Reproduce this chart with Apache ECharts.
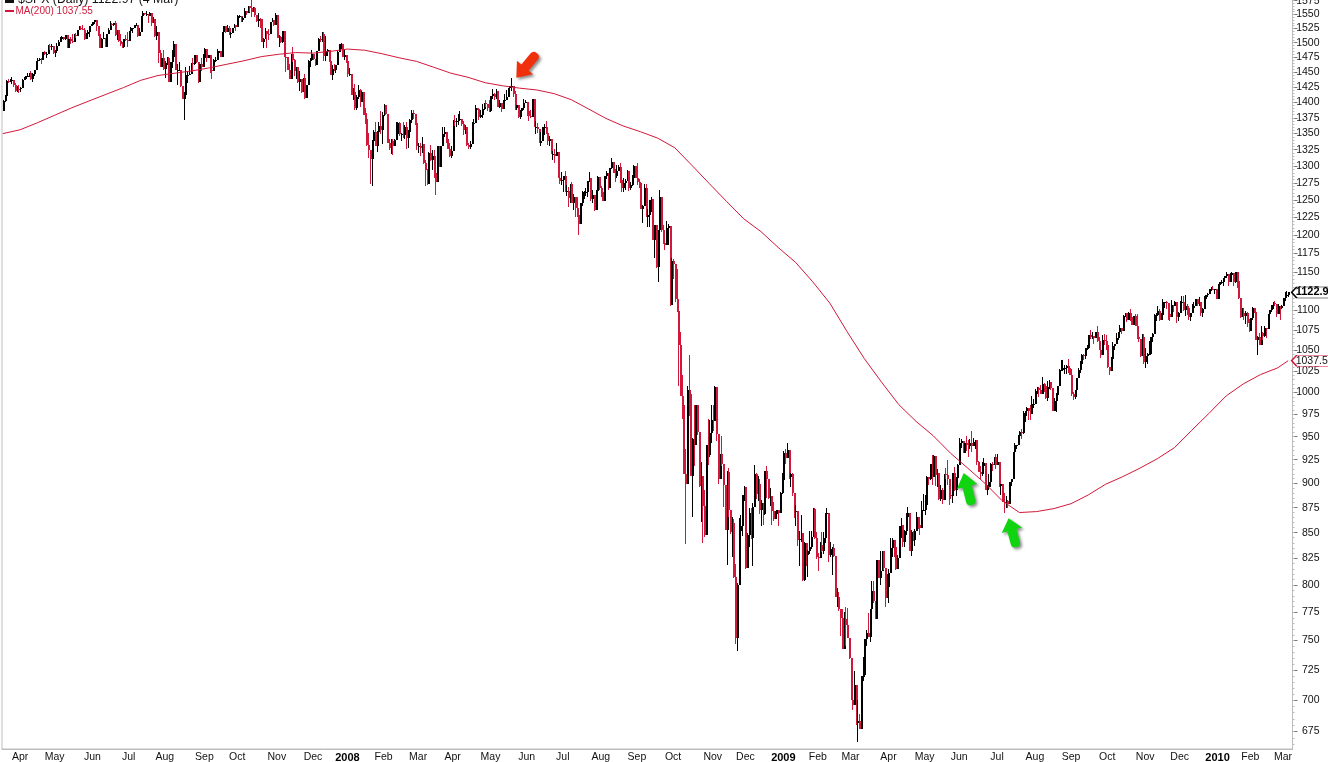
<!DOCTYPE html>
<html><head><meta charset="utf-8"><title>$SPX</title>
<style>html,body{margin:0;padding:0;background:#fff;overflow:hidden}#c{width:1328px;height:762px}</style>
<script src="https://cdn.jsdelivr.net/npm/echarts@6/dist/echarts.min.js"></script>
</head><body><div id="c"></div>
<script>
const monthLabels=['Apr','May','Jun','Jul','Aug','Sep','Oct','Nov','Dec','2008','Feb','Mar','Apr','May','Jun','Jul','Aug','Sep','Oct','Nov','Dec','2009','Feb','Mar','Apr','May','Jun','Jul','Aug','Sep','Oct','Nov','Dec','2010','Feb','Mar'];
const monthBars=[10,20,22,21,21,23,19,23,21,20,21,20,20,22,21,21,22,21,21,23,19,22,20,19,22,21,20,22,22,21,21,22,20,22,19,19,4];
const firstOpen=1386;
const closes=[
1402,1410,1435,1434,1437,1437,1428,1418,1422,1421,
1424,1437,1439,1443,1444,1448,1439,1447,1453,1468,1471,1472,1470,1484,1480,1480,1495,1494,1494,1482,
1486,1495,1502,1506,1510,1507,1513,1491,1506,1503,1501,1514,1512,1523,1525,1524,1522,1507,1515,1519,1530,1531,
1536,1540,1530,1515,1491,1507,1509,1493,1515,1523,1533,1531,1534,1513,1522,1503,1497,1492,1506,1505,1503,
1520,1525,1525,1531,1532,1511,1519,1548,1553,1550,1550,1547,1553,1534,1541,1512,1518,1483,1459,1474,1455,
1465,1473,1433,1467,1476,1497,1453,1453,1453,1427,1406,1411,1445,1445,1447,1465,1463,1479,1466,1433,1463,1458,1474,
1489,1473,1479,1453,1451,1471,1471,1483,1485,1476,1519,1530,1519,1525,1517,1517,1525,1532,1527,
1547,1547,1540,1543,1557,1553,1565,1562,1555,1562,1549,1539,1542,1541,1501,1507,1520,1516,1515,1536,1540,1532,1549,
1509,1510,1502,1520,1476,1475,1453,1439,1481,1471,1451,1458,1433,1439,1417,1440,1407,1429,1469,1470,1481,
1472,1462,1485,1507,1504,1516,1477,1486,1488,1468,1445,1455,1454,1461,1484,1497,1498,1476,1478,1468,
1447,1447,1411,1416,1390,1409,1420,1401,1416,1380,1373,1333,1325,1311,1338,1353,1331,1353,1362,1355,1379,
1396,1381,1336,1327,1339,1331,1340,1349,1367,1349,1349,1348,1360,1343,1353,1372,1382,1381,1367,1331,
1331,1327,1334,1305,1294,1273,1320,1309,1316,1289,1277,1330,1299,1330,1349,1352,1342,1326,1316,1323,
1370,1368,1370,1371,1373,1365,1355,1360,1333,1329,1334,1365,1366,1391,1389,1376,1380,1389,1398,1397,1391,1386,
1410,1414,1408,1419,1393,1398,1389,1404,1404,1408,1424,1426,1426,1414,1391,1395,1376,1386,1390,1399,1400,
1386,1378,1377,1405,1361,1361,1358,1336,1339,1361,1361,1351,1338,1342,1318,1318,1315,1322,1283,1278,1280,
1285,1262,1263,1253,1274,1245,1254,1239,1229,1215,1245,1261,1261,1261,1278,1283,1252,1257,1235,1263,1284,1267,
1261,1249,1285,1290,1267,1297,1306,1290,1285,1293,1298,1279,1267,1275,1278,1292,1267,1272,1282,1300,1283,
1277,1275,1237,1242,1268,1225,1228,1250,1252,1193,1214,1156,1207,1255,1207,1189,1186,1210,1213,1107,1165,
1161,1114,1099,1057,996,985,910,899,1003,998,908,947,941,986,955,897,908,877,848,941,930,954,969,
967,1006,953,905,931,920,898,853,912,873,851,860,807,752,800,852,857,888,896,
816,848,870,845,876,910,889,899,873,880,869,913,904,885,887,872,864,869,873,870,890,903,
932,927,935,907,910,890,871,872,843,844,850,805,840,828,832,836,846,874,845,826,
825,838,832,845,869,870,828,834,835,827,789,789,778,770,743,769,764,752,735,
700,696,712,682,683,677,720,721,751,757,753,778,794,785,769,823,806,813,832,816,788,798,
811,835,843,836,815,825,857,858,841,852,866,870,832,851,843,852,866,858,855,873,873,
878,907,904,920,907,929,909,911,884,893,883,910,909,904,888,887,911,893,906,919,
943,945,932,943,941,940,943,940,944,946,923,912,910,918,921,893,896,901,920,919,928,919,
923,897,899,881,880,882,879,901,905,933,941,941,951,955,954,976,979,982,979,975,987,987,
1002,1005,1003,998,1010,1007,994,1006,1012,1005,979,990,997,1007,1026,1026,1029,1029,1031,1029,1021,
998,995,1003,1017,1026,1034,1044,1043,1053,1053,1069,1066,1068,1065,1072,1061,1051,1044,1063,1061,1057,
1030,1025,1040,1055,1058,1065,1072,1077,1074,1093,1097,1087,1097,1092,1081,1093,1080,1067,1064,1043,1067,1036,
1043,1046,1046,1066,1070,1094,1094,1099,1088,1094,1110,1110,1109,1095,1091,1107,1106,1110,1091,1096,
1109,1110,1100,1106,1103,1092,1096,1103,1106,1115,1108,1110,1097,1102,1114,1119,1121,1127,1128,1126,1127,1115,
1133,1137,1137,1142,1145,1147,1137,1146,1148,1136,1150,1138,1116,1092,1097,1093,1097,1084,1074,
1090,1103,1098,1063,1066,1056,1071,1068,1078,1076,1095,1100,1107,1109,1108,1095,1106,1103,1105,
1116,1118,1119,1122.97];
const highs=[
1404,1411,1437,1438,1439,1441,1437,1431,1426,1429,
1425,1438,1441,1444,1449,1448,1451,1449,1453,1469,1474,1474,1474,1484,1486,1484,1496,1498,1497,1494,
1487,1499,1505,1510,1511,1510,1514,1513,1506,1510,1515,1515,1517,1523,1530,1529,1532,1526,1517,1523,1530,1533,
1537,1540,1540,1530,1517,1508,1518,1509,1515,1526,1538,1535,1535,1538,1522,1522,1516,1501,1507,1514,1518,
1520,1527,1526,1532,1534,1531,1526,1548,1556,1553,1556,1550,1555,1552,1545,1540,1529,1518,1488,1474,1488,
1468,1476,1476,1467,1488,1503,1497,1463,1466,1453,1427,1416,1459,1452,1460,1465,1473,1479,1479,1466,1463,1474,1481,
1490,1489,1479,1479,1460,1472,1475,1489,1486,1485,1519,1530,1529,1532,1530,1518,1525,1533,1532,
1549,1549,1546,1545,1561,1557,1565,1566,1576,1563,1564,1549,1553,1544,1541,1508,1525,1517,1524,1537,1544,1537,1553,
1549,1513,1511,1521,1515,1479,1475,1464,1481,1492,1472,1459,1458,1452,1439,1440,1446,1429,1470,1474,1488,
1481,1472,1485,1508,1511,1519,1518,1511,1489,1487,1468,1461,1464,1461,1485,1497,1499,1498,1489,1478,
1471,1456,1447,1423,1430,1411,1428,1421,1418,1416,1391,1383,1351,1324,1340,1355,1368,1354,1369,1386,1385,
1397,1396,1381,1341,1342,1341,1341,1369,1369,1368,1351,1368,1363,1368,1355,1373,1388,1388,1381,1364,
1336,1335,1344,1333,1310,1296,1321,1333,1324,1324,1298,1330,1331,1331,1360,1360,1353,1346,1336,1330,
1371,1380,1375,1381,1386,1372,1370,1363,1359,1335,1339,1368,1373,1395,1390,1390,1387,1397,1399,1404,1397,1404,
1410,1422,1415,1421,1419,1404,1398,1404,1413,1420,1424,1427,1440,1426,1419,1396,1395,1387,1391,1406,1404,
1400,1393,1388,1405,1405,1370,1366,1358,1353,1361,1365,1370,1351,1347,1342,1323,1326,1336,1321,1290,1291,
1285,1292,1272,1269,1274,1277,1258,1254,1254,1234,1246,1263,1263,1267,1278,1291,1283,1264,1257,1264,1285,1284,
1270,1263,1285,1292,1290,1297,1313,1304,1296,1301,1302,1304,1276,1283,1281,1294,1293,1276,1287,1301,1298,
1304,1281,1275,1243,1274,1273,1237,1250,1255,1250,1214,1214,1207,1265,1255,1214,1197,1220,1215,1210,1169,
1167,1161,1154,1098,1072,1020,985,936,1007,1044,995,948,985,986,985,955,923,877,893,941,970,969,985,
985,1007,1003,952,931,951,918,897,913,916,873,866,864,820,802,865,868,888,897,
896,850,875,875,880,919,911,908,904,883,880,913,918,905,895,887,881,872,873,873,891,911,
934,936,943,935,911,911,890,878,871,852,868,850,841,840,833,852,852,875,875,851,
830,841,851,851,870,875,869,841,836,839,826,797,793,778,778,775,780,779,751,
735,711,724,709,700,689,720,736,751,759,774,778,804,804,785,823,823,832,832,832,816,810,
815,845,845,839,835,828,857,865,856,853,870,876,866,853,852,854,871,866,864,882,889,
888,908,907,920,930,930,929,915,911,898,895,910,916,925,905,896,911,917,907,920,
948,947,945,943,951,946,947,956,949,946,944,924,918,922,927,918,898,910,921,922,928,931,
931,923,899,899,890,887,883,901,905,933,943,941,952,956,959,979,979,983,982,986,996,993,
1004,1006,1006,1009,1018,1011,1006,1013,1014,1012,1005,994,999,1008,1027,1038,1038,1032,1032,1040,1029,
1028,1000,1003,1017,1029,1037,1045,1045,1053,1056,1069,1075,1072,1067,1073,1080,1066,1056,1069,1070,1069,
1054,1030,1042,1060,1058,1071,1073,1081,1076,1094,1097,1097,1098,1101,1097,1093,1095,1095,1072,1064,1070,1070,
1053,1047,1062,1066,1071,1095,1097,1105,1101,1097,1114,1111,1112,1109,1094,1113,1107,1112,1105,1098,
1112,1118,1118,1119,1108,1103,1096,1108,1110,1115,1115,1117,1107,1103,1118,1120,1122,1127,1130,1131,1127,1128,
1134,1137,1139,1142,1145,1150,1147,1148,1150,1148,1150,1150,1142,1115,1103,1103,1099,1098,1089,
1090,1104,1103,1098,1068,1071,1080,1073,1080,1076,1095,1100,1107,1110,1112,1108,1108,1104,1107,
1116,1124,1125,1123];
const lows=[
1386,1400,1409,1432,1433,1430,1425,1417,1417,1415,
1416,1424,1437,1437,1443,1442,1437,1434,1444,1453,1467,1468,1464,1470,1479,1473,1480,1488,1487,1480,
1476,1486,1495,1502,1506,1505,1505,1491,1491,1498,1500,1501,1509,1512,1522,1522,1522,1505,1507,1514,1510,1529,
1531,1533,1520,1512,1491,1491,1507,1492,1493,1515,1523,1529,1530,1512,1504,1501,1495,1490,1490,1503,1493,
1503,1520,1517,1525,1530,1510,1511,1519,1548,1549,1547,1534,1547,1529,1534,1510,1504,1465,1458,1459,1454,
1440,1461,1433,1437,1456,1475,1453,1429,1452,1425,1405,1371,1412,1431,1445,1447,1450,1461,1465,1432,1433,1452,1458,
1474,1467,1473,1449,1439,1451,1466,1471,1473,1476,1476,1519,1517,1520,1514,1508,1518,1525,1520,
1527,1544,1537,1537,1544,1549,1552,1555,1546,1554,1546,1536,1528,1526,1501,1490,1507,1490,1504,1516,1536,1529,1532,
1508,1493,1499,1499,1476,1450,1453,1438,1439,1467,1443,1439,1431,1419,1415,1417,1406,1407,1430,1459,1470,
1470,1460,1463,1486,1502,1502,1468,1469,1477,1467,1445,1436,1451,1448,1463,1484,1489,1476,1470,1465,
1442,1444,1411,1404,1388,1388,1406,1392,1404,1380,1365,1330,1313,1274,1271,1337,1330,1322,1353,1350,1334,
1378,1379,1336,1324,1318,1317,1331,1340,1350,1347,1339,1343,1341,1326,1327,1352,1367,1373,1363,1325,
1320,1315,1320,1303,1270,1272,1274,1308,1294,1283,1257,1283,1299,1299,1330,1344,1336,1326,1314,1312,
1327,1362,1360,1364,1371,1362,1348,1350,1331,1326,1326,1334,1363,1367,1388,1371,1375,1375,1388,1393,1386,1385,
1385,1406,1404,1406,1392,1390,1384,1389,1396,1404,1409,1418,1419,1409,1388,1387,1374,1373,1382,1388,1398,
1378,1370,1374,1377,1361,1350,1351,1335,1331,1339,1348,1350,1333,1331,1318,1310,1305,1315,1283,1273,1272,
1261,1261,1256,1240,1245,1245,1236,1225,1226,1200,1215,1241,1252,1256,1255,1276,1248,1245,1234,1235,1264,1264,
1254,1248,1249,1281,1264,1267,1296,1289,1276,1283,1292,1275,1261,1262,1265,1278,1263,1264,1270,1283,1282,
1272,1267,1237,1217,1247,1225,1212,1211,1233,1193,1169,1155,1137,1215,1205,1188,1179,1187,1187,1106,1107,
1141,1111,1098,1007,996,970,910,839,900,973,908,866,918,941,952,896,861,840,846,849,919,928,943,
956,969,945,899,908,918,876,853,819,866,849,826,806,747,741,801,834,847,882,
815,818,836,844,818,882,884,882,869,857,858,868,885,884,877,858,862,864,866,857,870,889,
899,920,927,904,896,887,865,857,837,818,841,804,804,818,807,829,834,846,844,824,
813,826,831,829,840,862,822,826,809,826,789,780,776,754,743,743,745,752,734,
700,692,697,680,667,677,680,716,719,745,753,749,765,783,769,772,806,800,814,814,780,790,
783,814,826,826,814,815,826,845,836,836,848,860,832,827,842,837,852,854,848,855,872,
868,878,898,903,898,909,897,896,883,882,879,888,905,898,878,884,880,892,887,904,
919,938,932,932,934,928,936,933,940,936,919,912,904,908,915,893,888,897,896,913,919,915,
920,896,888,881,870,875,875,879,897,905,928,936,941,948,947,953,966,973,969,968,976,982,
987,998,995,998,1002,1001,992,990,1004,1003,979,980,978,995,1009,1026,1026,1022,1022,1023,1020,
996,991,992,1001,1018,1023,1032,1038,1040,1050,1052,1064,1064,1058,1066,1060,1050,1041,1045,1057,1050,
1029,1020,1026,1041,1051,1058,1063,1072,1070,1075,1092,1085,1087,1086,1081,1081,1080,1064,1060,1042,1044,1034,
1029,1033,1045,1047,1060,1071,1086,1094,1086,1088,1094,1103,1102,1087,1086,1095,1098,1105,1084,1086,
1096,1108,1099,1093,1094,1088,1086,1096,1103,1108,1105,1105,1093,1091,1102,1114,1117,1121,1125,1126,1121,1115,
1117,1130,1134,1131,1136,1142,1131,1136,1145,1131,1135,1129,1114,1090,1092,1088,1083,1079,1072,
1074,1088,1096,1063,1044,1057,1057,1063,1067,1065,1076,1095,1098,1102,1105,1092,1095,1087,1101,
1105,1112,1118,1117];
// 200-day average, one reading every ten bars
const maReadings=[1350,1356,1367,1379,1391,1402,1413,1424,1436,1444,1448,1452,1457,1463,1469,1476,1480,1483,1482,1485,1489,1487,1481,1474,1468,1458,1448,1441,1432,1427,1423,1420,1414,1404,1389,1374,1362,1353,1343,1328,1301,1274,1248,1223,1205,1183,1163,1137,1109,1073,1040,1012,986,967,951,932,916,900,882,870,871,874,879,888,899,907,916,926,938,957,976,996,1010,1021,1029];
const lastMA=1037.55;
const priceTicks=[675,700,725,750,775,800,825,850,875,900,925,950,975,1000,1025,1050,1075,1100,1125,1150,1175,1200,1225,1250,1275,1300,1325,1350,1375,1400,1425,1450,1475,1500,1525,1550,1575];

if(closes.length!==highs.length||closes.length!==lows.length)console.error('len',closes.length,highs.length,lows.length);
const RED='#d2183a',GREY='#bcbcbc',FONT='"Liberation Sans",Arial,sans-serif';
const n=closes.length, pad=2;
const cats=Array.from({length:n+pad},(_,i)=>String(i));
const labelAt={};let pos=monthBars[0];
monthLabels.forEach((m,k)=>{labelAt[pos]=m;pos+=monthBars[k+1];});
const isMonth=i=>labelAt[i]!==undefined;
const bars=closes.map((c,i)=>[i,i?closes[i-1]:firstOpen,highs[i],lows[i],c]);
const maSeries=maReadings.map((v,k)=>[k*10,v]).concat([[n-1,lastMA]]);
const minorTicks=[];for(let v=665;v<=1575;v+=5)minorTicks.push(v);
const ARROW='path://M10 0L20 13L14.5 13L14.5 27Q14.5 31 10 31Q5.5 31 5.5 27L5.5 13L0 13Z';
const TAG='path://M0 5.5L5 0L40 0L40 11L5 11Z';
const arrowShadow={shadowBlur:3,shadowColor:'rgba(0,0,0,.45)',shadowOffsetX:2,shadowOffsetY:2};

const chart=echarts.init(document.getElementById('c'),null,{renderer:'canvas'});
const yBase={type:'log',logBase:10,min:661.4,max:1578,position:'right',splitLine:{show:false},minorTick:{show:false},axisLine:{show:true,lineStyle:{color:GREY}}};
chart.setOption({
 animation:false,backgroundColor:'#fff',
 grid:{left:2,right:35.5,top:-1,bottom:13,show:true,borderColor:GREY,borderWidth:1,backgroundColor:'#fff',outerBoundsMode:'none',containLabel:false},
 xAxis:{type:'category',data:cats,boundaryGap:true,
  axisLine:{lineStyle:{color:GREY}},
  axisTick:{inside:true,length:3,alignWithLabel:true,lineStyle:{color:GREY},interval:(i)=>isMonth(i)},
  axisLabel:{interval:(i)=>isMonth(i),margin:3,fontFamily:FONT,fontSize:10.5,color:'#111',hideOverlap:false,
   formatter:(v,i)=>{const t=labelAt[+v];return /^20/.test(t)?'{b|'+t+'}':t;},
   rich:{b:{fontWeight:'bold',fontFamily:FONT,fontSize:11,color:'#000'}}}},
 yAxis:[Object.assign({},yBase,{
   axisTick:{show:true,length:5,lineStyle:{color:'#777'},customValues:priceTicks},
   axisLabel:{show:true,customValues:priceTicks,align:'right',margin:27,fontFamily:FONT,fontSize:10.5,color:'#111',formatter:v=>String(Math.round(v))}}),
  Object.assign({},yBase,{
   axisTick:{show:true,length:2,lineStyle:{color:GREY},customValues:minorTicks},
   axisLabel:{show:false}})],
 series:[
 {type:'custom',name:'$SPX',data:bars,clip:true,silent:true,z:2,xAxisIndex:0,yAxisIndex:0,
  encode:{x:0,y:[1,2,3,4]},
  renderItem:(p,api)=>{
   const i=api.value(0),o=api.value(1),h=api.value(2),l=api.value(3),c=api.value(4);
   const X=Math.round(api.coord([i,c])[0]);
   const yh=Math.round(api.coord([i,h])[1]),yl=Math.round(api.coord([i,l])[1]),yo=Math.round(api.coord([i,o])[1]),yc=Math.round(api.coord([i,c])[1]);
   const col=c>=o?'#000':RED;
   return {type:'group',children:[
    {type:'rect',shape:{x:X,y:yh,width:1,height:Math.max(1,yl-yh)},style:{fill:col}},
    {type:'rect',shape:{x:X,y:Math.min(yo,yc),width:2,height:Math.max(1,Math.abs(yo-yc))},style:{fill:col}}]};
  }},
 {type:'line',name:'MA(200)',data:maSeries,yAxisIndex:0,showSymbol:false,symbol:'none',smooth:false,z:3,silent:true,
  lineStyle:{color:RED,width:1},
  markPoint:{silent:true,animation:false,label:{show:false},
   data:[
    {coord:[304,1461],symbol:ARROW,symbolSize:[21,32],symbolRotate:140,itemStyle:Object.assign({color:'#f0300c'},arrowShadow)},
    {coord:[560,894],symbol:ARROW,symbolSize:[21,33],symbolRotate:14,itemStyle:Object.assign({color:'#0fd40f'},arrowShadow)},
    {coord:[586,850],symbol:ARROW,symbolSize:[21,30],symbolRotate:15,itemStyle:Object.assign({color:'#0fd40f'},arrowShadow)},
    {coord:[n+pad-1,closes[n-1]],symbol:TAG,symbolSize:[40,11],symbolOffset:[20,0],itemStyle:{color:'#fff',borderColor:'#000',borderWidth:1},
     label:{show:true,position:'insideLeft',distance:5,formatter:String(closes[n-1]),fontFamily:FONT,fontSize:11,fontWeight:'bold',color:'#000'}},
    {coord:[n+pad-1,lastMA],symbol:TAG,symbolSize:[40,11],symbolOffset:[20,0],itemStyle:{color:'#fff',borderColor:RED,borderWidth:1},
     label:{show:true,position:'insideLeft',distance:5,formatter:String(lastMA),fontFamily:FONT,fontSize:10.5,color:'#111'}}
   ]}}
 ],
 graphic:[
  {type:'rect',z:20,shape:{x:5,y:0,width:9,height:3},style:{fill:'#111'}},
  {type:'text',z:20,x:18,y:0,style:{text:'$SPX (Daily) 1122.97 (4 Mar)',fontFamily:FONT,fontSize:12.3,fill:'#111',verticalAlign:'middle'}},
  {type:'rect',z:20,shape:{x:5,y:10,width:9,height:2},style:{fill:RED}},
  {type:'text',z:20,x:15.5,y:11,style:{text:'MA(200) 1037.55',fontFamily:FONT,fontSize:10,fill:RED,verticalAlign:'middle'}}
 ]
});
</script></body></html>
